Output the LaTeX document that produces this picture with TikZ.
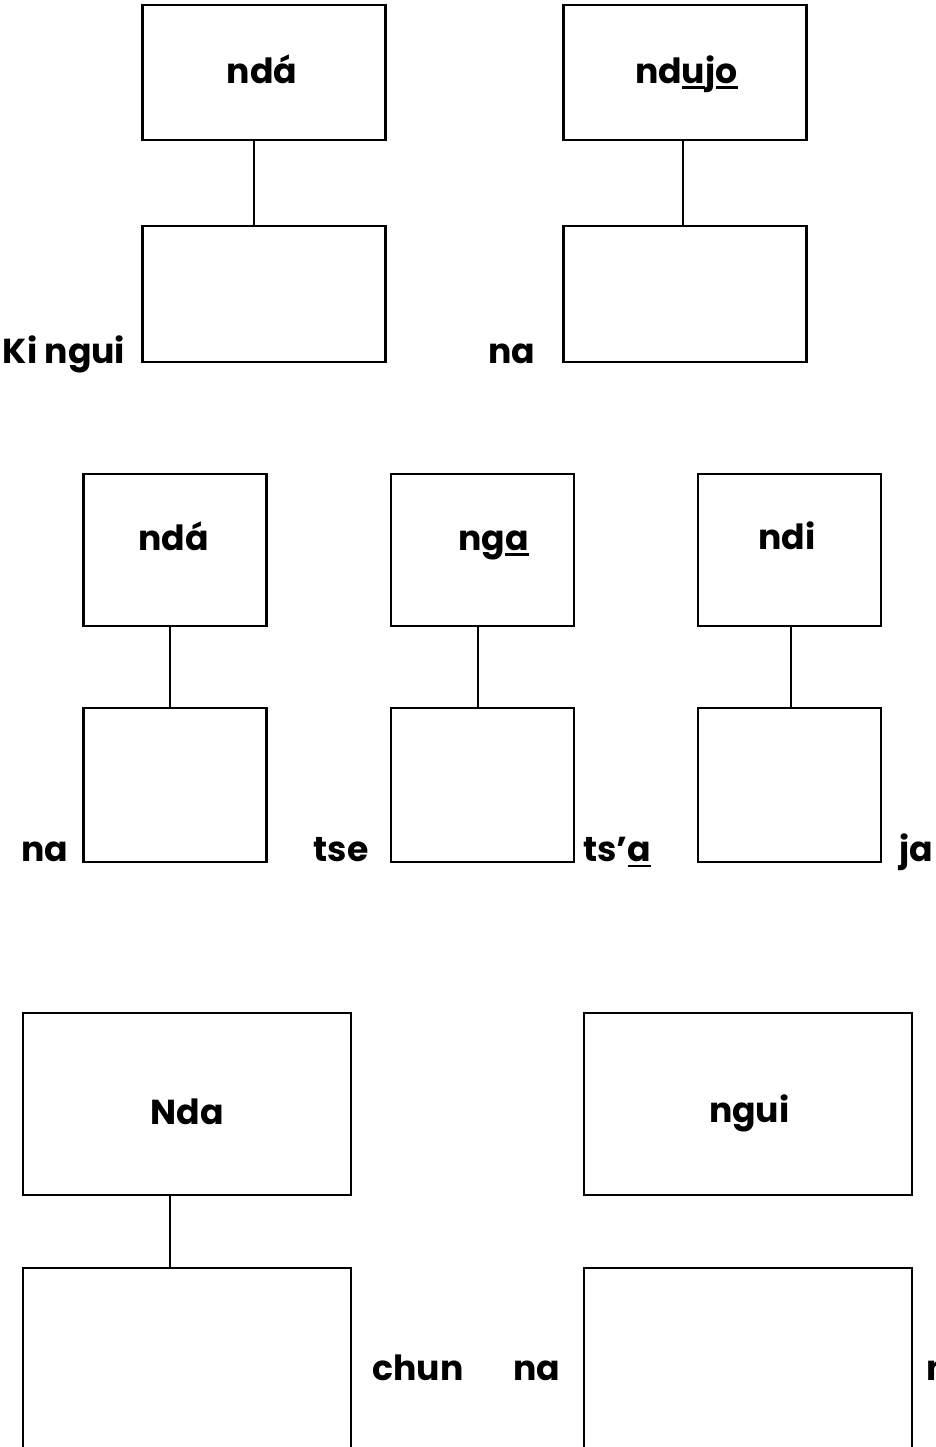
\documentclass[tikz,border=0pt]{standalone}
\usepackage{fontspec}
\setmainfont{Poppins}
\usepackage{tikz}
\usetikzlibrary{positioning,calc}

\newlength\barwd
\newcommand{\tonebar}[1]{\settowidth{\barwd}{#1}\rlap{\rule[-0.17em]{\barwd}{0.075em}}#1}

\begin{document}
\begin{tikzpicture}[
    x=0.75pt, y=-0.75pt,
    box/.style={rectangle, draw, line width=1.9pt, minimum width=#1, inner sep=0pt},
    word/.style={font=\fontsize{26}{30}\selectfont\bfseries, inner sep=0pt, anchor=base},
    lbl/.style={font=\fontsize{26}{30}\selectfont\bfseries, inner sep=0pt},
    link/.style={line width=1.5pt},
]
\useasboundingbox (0,0) rectangle (936,1447);
\clip (0,0) rectangle (936,1447);

% Row 1
\node[box=182pt, minimum height=101pt] (ta) at (264,72.5) {};
\node[box=182pt, minimum height=102pt] (ba) at (264,294) {};
\node[box=182pt, minimum height=101pt] (tb) at (685,72.5) {};
\node[box=182pt, minimum height=102pt] (bb) at (685,294) {};

\node[word] (ta-w) at ([xshift=-1.5pt,yshift=-7.9pt]ta.center) {ndá};
\node[word] (tb-w) at ([xshift=1pt,yshift=-7.9pt]tb.center) {nd\tonebar{u}j\tonebar{o}};

\node[lbl, anchor=base east] (kingui) at ([xshift=-12pt,yshift=-0.5pt]ba.south west) {Ki ngui};
\node[lbl, anchor=base east] (na-a) at ([xshift=-20pt,yshift=-0.5pt]bb.south west) {na};

\draw[link] ([xshift=-7.5pt]ta.south) -- ([xshift=-7.5pt]ba.north);
\draw[link] ([xshift=-1.5pt]tb.south) -- ([xshift=-1.5pt]bb.north);

% Row 2
\node[box=137pt, minimum height=114pt] (tc) at (175,550) {};
\node[box=137pt, minimum height=115.5pt] (bc) at (175,785) {};
\node[box=137pt, minimum height=114pt] (td) at (482.5,550) {};
\node[box=137pt, minimum height=115.5pt] (bd) at (482.5,785) {};
\node[box=137pt, minimum height=114pt] (te) at (789.5,550) {};
\node[box=137pt, minimum height=115.5pt] (be) at (789.5,785) {};

\node[word] (tc-w) at ([xshift=-1pt]tc.center) {ndá};
\node[word] (td-w) at ([xshift=8.25pt]td.center) {ng\tonebar{a}};
\node[word] (te-w) at ([xshift=-2pt,yshift=0.75pt]te.center) {ndi};

\node[lbl, anchor=base east] (na-b) at ([xshift=-10.5pt,yshift=1.5pt]bc.south west) {na};
\node[lbl, anchor=base east] (tse) at ([xshift=-15.75pt,yshift=1.5pt]bd.south west) {tse};
\node[lbl, anchor=base west] (tsa) at ([xshift=6pt,yshift=1.5pt]bd.south east) {ts’\tonebar{a}};
\node[lbl, anchor=base west] (ja) at ([xshift=12.75pt,yshift=1.5pt]be.south east) {ja};

\draw[link] ([xshift=-3.75pt]tc.south) -- ([xshift=-3.75pt]bc.north);
\draw[link] ([xshift=-3.4pt]td.south) -- ([xshift=-3.4pt]bd.north);
\draw[link] ([xshift=1.1pt]te.south) -- ([xshift=1.1pt]be.north);

% Row 3
\node[box=246pt, minimum height=136.5pt] (tf) at (187,1104) {};
\node[box=246pt, minimum height=187.5pt] (bf) at (187,1393) {};
\node[box=246pt, minimum height=136.5pt] (tg) at (748,1104) {};
\node[box=246pt, minimum height=187.5pt] (bg) at (748,1393) {};

\node[word] (tf-w) at ([yshift=-15pt]tf.center) {Nda};
\node[word] (tg-w) at ([xshift=1pt,yshift=-13.5pt]tg.center) {ngui};

\node[lbl, anchor=base west] (chun) at ([xshift=15pt,yshift=-85.5pt]bf.north east) {chun};
\node[lbl, anchor=base east] (na-c) at ([xshift=-16.5pt,yshift=-85.5pt]bg.north west) {na};
\node[lbl, anchor=base west] (n-cut) at ([xshift=9.75pt,yshift=-85.5pt]bg.north east) {n};

\draw[link] ([xshift=-12.75pt,yshift=2pt]tf.south) -- ([xshift=-12.75pt]bf.north);

\end{tikzpicture}
\end{document}
